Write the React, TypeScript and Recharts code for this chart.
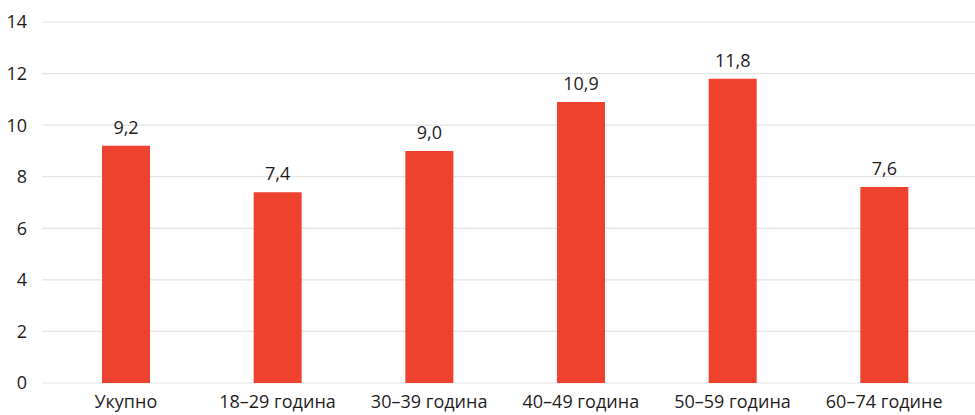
import { Bar, BarChart, CartesianGrid, LabelList, XAxis, YAxis } from "recharts";

const categories = ["Укупно", "18–29 година", "30–39 година", "40–49 година", "50–59 година", "60–74 године"];
const values = [9.2, 7.4, 9.0, 10.9, 11.8, 7.6];
const yTicks = [0, 2, 4, 6, 8, 10, 12, 14];

const data = categories.map((name, i) => ({ name, value: values[i] }));

const font = "'Open Sans', 'Noto Sans', sans-serif";
const textColor = "#1f1c1d";

export default function App() {
  return (
    <div style={{ width: 975, height: 415, background: "#fff" }}>
      <style>{"body{margin:0}"}</style>
      <BarChart
        width={975}
        height={415}
        data={data}
        margin={{ top: 22, right: 0, bottom: 0, left: 0 }}
        barSize={48}
      >
        <CartesianGrid vertical={false} stroke="#e3e3e3" strokeWidth={1.2} />
        <XAxis
          dataKey="name"
          axisLine={false}
          tickLine={false}
          height={32}
          padding={{ left: 8, right: 15 }}
          tickMargin={6}
          interval={0}
          tick={{ fill: textColor, fontSize: 18, fontFamily: font }}
        />
        <YAxis
          domain={[0, 14]}
          ticks={yTicks}
          width={42}
          axisLine={false}
          tickLine={false}
          tickMargin={9}
          tick={{ fill: textColor, fontSize: 18, fontFamily: font }}
        />
        <Bar dataKey="value" fill="#ee422e" isAnimationActive={false}>
          <LabelList
            dataKey="value"
            position="top"
            offset={12}
            formatter={(v: number) => v.toFixed(1).replace(".", ",")}
            style={{ fill: textColor, fontSize: 18, fontFamily: font }}
          />
        </Bar>
      </BarChart>
    </div>
  );
}
